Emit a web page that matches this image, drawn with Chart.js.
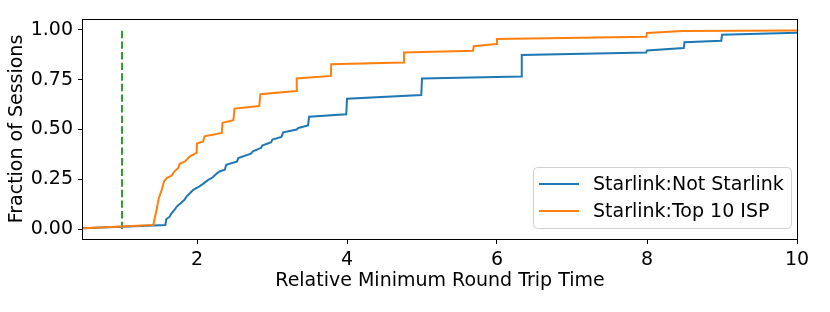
<!DOCTYPE html>
<html>
<head>
<meta charset="utf-8">
<script src="https://cdn.jsdelivr.net/npm/chart.js@4.4.1/dist/chart.umd.min.js"></script>
<style>
  html, body { margin: 0; padding: 0; background: #ffffff; }
  canvas { display: block; }
</style>
</head>
<body>
<canvas id="c" width="830" height="312"></canvas>
<script>
// ---- data ----
const seriesNames = ["Starlink:Not Starlink", "Starlink:Top 10 ISP"];
const seriesColors = ["#1f77b4", "#ff7f0e"];

const notStarlinkX = [0.48, 1.578, 1.59, 1.635, 1.66, 1.70, 1.73, 1.77, 1.83, 1.86, 1.905, 1.95, 2.015, 2.08, 2.15, 2.21, 2.26, 2.30, 2.37, 2.39, 2.535, 2.55, 2.72, 2.745, 2.855, 2.87, 2.99, 3.005, 3.125, 3.15, 3.33, 3.35, 3.48, 3.495, 3.99, 4.0, 4.99, 5.0, 6.32, 6.33, 7.99, 8.0, 8.49, 8.5, 8.99, 9.0, 10];
const notStarlinkY = [0.004, 0.02, 0.049, 0.062, 0.079, 0.096, 0.113, 0.126, 0.146, 0.163, 0.18, 0.197, 0.21, 0.227, 0.247, 0.26, 0.278, 0.289, 0.298, 0.323, 0.34, 0.357, 0.379, 0.39, 0.408, 0.419, 0.436, 0.45, 0.463, 0.486, 0.5, 0.508, 0.52, 0.564, 0.576, 0.655, 0.673, 0.756, 0.766, 0.874, 0.887, 0.897, 0.909, 0.938, 0.946, 0.976, 0.986];

const top10X = [0.48, 1.417, 1.46, 1.49, 1.53, 1.56, 1.595, 1.66, 1.70, 1.75, 1.77, 1.84, 1.905, 1.995, 2.0, 2.08, 2.10, 2.33, 2.34, 2.485, 2.5, 2.83, 2.845, 3.32, 3.33, 3.785, 3.79, 4.75, 4.76, 5.68, 5.69, 5.99, 6.0, 7.99, 8.0, 8.48, 10];
const top10Y = [0.004, 0.02, 0.096, 0.155, 0.197, 0.239, 0.256, 0.268, 0.29, 0.307, 0.328, 0.34, 0.365, 0.382, 0.43, 0.44, 0.466, 0.483, 0.534, 0.547, 0.605, 0.618, 0.677, 0.693, 0.756, 0.769, 0.828, 0.837, 0.887, 0.895, 0.918, 0.93, 0.955, 0.966, 0.985, 0.995, 0.997];

const baselineX = [1, 1];
const baselineY = [0, 1];

const xTicks = [2, 4, 6, 8, 10];
const yTicks = [0, 0.25, 0.5, 0.75, 1.0];
const yTickLabels = ["0.00", "0.25", "0.50", "0.75", "1.00"];

const xTitle = "Relative Minimum Round Trip Time";
const yTitle = "Fraction of Sessions";

// ---- build chart ----
function pts(xs, ys) { return xs.map((x, i) => ({ x: x, y: ys[i] })); }

const FONT = "'DejaVu Sans', sans-serif";
const FS = 19;

const framePlugin = {
  id: 'frame',
  afterDatasetsDraw(chart) {
    const { ctx, chartArea: a } = chart;
    ctx.save();
    ctx.strokeStyle = '#000';
    ctx.lineWidth = 1;
    ctx.strokeRect(Math.round(a.left) - 0.5, Math.round(a.top) + 0.5, Math.round(a.right - a.left) + 1, Math.round(a.bottom - a.top) - 0);
    ctx.restore();
  },
  afterDraw(chart) {
    // matplotlib-style legend, lower right inside the axes
    const { ctx } = chart;
    const ds = chart.data.datasets.filter(d => d.inLegend);
    const bx = 533.5, by = 167.5, bw = 258, bh = 61, r = 4;
    ctx.save();
    ctx.beginPath();
    ctx.moveTo(bx + r, by);
    ctx.lineTo(bx + bw - r, by);
    ctx.quadraticCurveTo(bx + bw, by, bx + bw, by + r);
    ctx.lineTo(bx + bw, by + bh - r);
    ctx.quadraticCurveTo(bx + bw, by + bh, bx + bw - r, by + bh);
    ctx.lineTo(bx + r, by + bh);
    ctx.quadraticCurveTo(bx, by + bh, bx, by + bh - r);
    ctx.lineTo(bx, by + r);
    ctx.quadraticCurveTo(bx, by, bx + r, by);
    ctx.closePath();
    ctx.fillStyle = 'rgba(255,255,255,0.8)';
    ctx.fill();
    ctx.strokeStyle = '#d0d0d0';
    ctx.lineWidth = 1;
    ctx.stroke();
    ctx.font = FS + "px " + FONT;
    ctx.textBaseline = 'middle';
    ctx.fillStyle = '#000';
    ds.forEach((d, i) => {
      const yy = 184 + i * 27;
      ctx.strokeStyle = d.borderColor;
      ctx.lineWidth = 2;
      ctx.beginPath();
      ctx.moveTo(539, yy);
      ctx.lineTo(579, yy);
      ctx.stroke();
      ctx.fillText(d.label, 593, yy + 1);
    });
    ctx.restore();
  }
};

new Chart(document.getElementById('c'), {
  type: 'scatter',
  data: {
    datasets: [
      { label: seriesNames[0], data: pts(notStarlinkX, notStarlinkY), showLine: true, borderColor: seriesColors[0], backgroundColor: seriesColors[0], borderWidth: 2, pointRadius: 0, order: 1, inLegend: true },
      { label: seriesNames[1], data: pts(top10X, top10Y), showLine: true, borderColor: seriesColors[1], backgroundColor: seriesColors[1], borderWidth: 2, pointRadius: 0, order: 0, inLegend: true },
      { label: 'baseline', data: pts(baselineX, baselineY), showLine: true, borderColor: '#2ca02c', borderWidth: 2, borderDash: [7.4, 3.2], pointRadius: 0, order: 2, inLegend: false }
    ]
  },
  options: {
    responsive: false,
    animation: false,
    devicePixelRatio: 1,
    layout: { padding: { left: 0, right: 33, top: 19, bottom: 0 } },
    plugins: { legend: { display: false }, tooltip: { enabled: false } },
    scales: {
      x: {
        type: 'linear',
        min: 0.48,
        max: 10,
        afterBuildTicks: (s) => { s.ticks = xTicks.map(v => ({ value: v })); },
        afterFit: (s) => { s.height = 73; },
        ticks: { color: '#000', font: { family: FONT, size: FS }, padding: 5, maxRotation: 0, callback: (v) => String(v) },
        grid: { drawOnChartArea: false, drawTicks: true, tickLength: 5, color: '#000', lineWidth: 1 },
        border: { display: false },
        title: { display: true, text: xTitle, color: '#000', font: { family: FONT, size: FS }, padding: { top: 19.6, bottom: 19.6 } }
      },
      y: {
        type: 'linear',
        min: -0.05,
        max: 1.055,
        afterBuildTicks: (s) => { s.ticks = yTicks.map(v => ({ value: v })); },
        afterFit: (s) => { s.width = 83; },
        ticks: { color: '#000', font: { family: FONT, size: FS }, padding: 5, callback: (v) => { const i = yTicks.indexOf(v); return i >= 0 ? yTickLabels[i] : ''; } },
        grid: { drawOnChartArea: false, drawTicks: true, tickLength: 5, color: '#000', lineWidth: 1 },
        border: { display: false },
        title: { display: true, text: yTitle, color: '#000', font: { family: FONT, size: FS }, padding: { top: 5.6, bottom: 5.6 } }
      }
    }
  },
  plugins: [framePlugin]
});
</script>
</body>
</html>
